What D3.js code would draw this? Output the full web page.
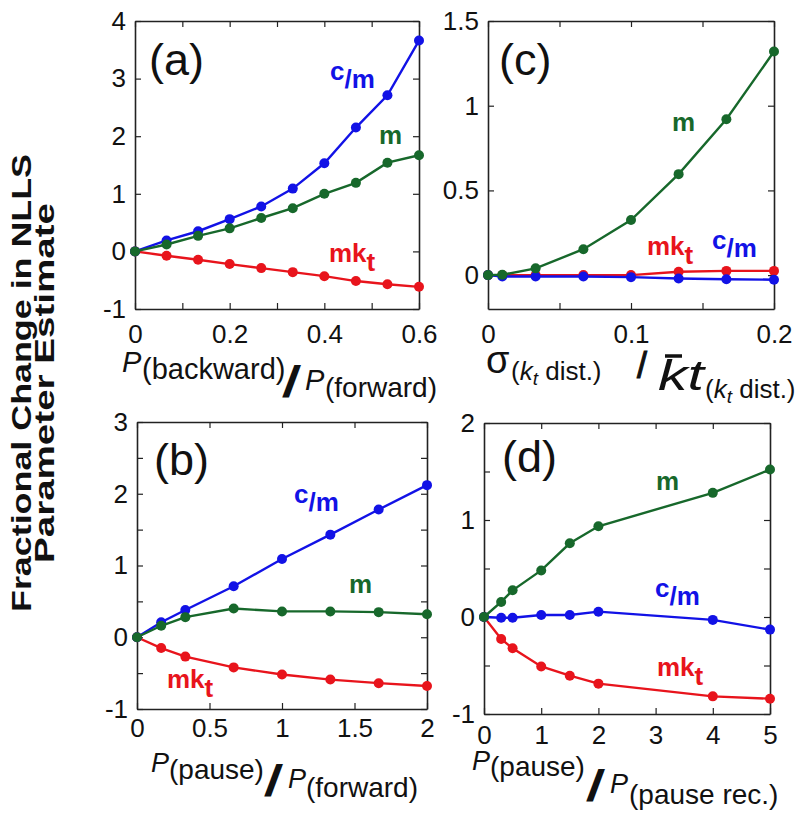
<!DOCTYPE html>
<html><head><meta charset="utf-8">
<script src="https://cdn.jsdelivr.net/npm/d3@7"></script>
<style>
body{margin:0;background:#fff}
svg{display:block}
text{font-family:"Liberation Sans",Arial,sans-serif}
</style>
</head><body>
<svg id="chart" width="800" height="816"></svg>
<script>
// ---------- DATA ----------
// Panel (a): P(backward)/P(forward)
const xA    = [0, 0.0667, 0.1333, 0.2, 0.2667, 0.3333, 0.4, 0.4667, 0.5333, 0.6];
const aCm   = [0, 0.19, 0.35, 0.56, 0.78, 1.09, 1.53, 2.15, 2.71, 3.66];
const aM    = [0, 0.12, 0.27, 0.40, 0.58, 0.75, 1.00, 1.19, 1.54, 1.67];
const aMkt  = [0, -0.075, -0.145, -0.22, -0.29, -0.36, -0.43, -0.515, -0.57, -0.615];
const xTicksA = [0, 0.1, 0.2, 0.3, 0.4, 0.5, 0.6];
const xLabelsA = [0, 0.2, 0.4, 0.6];
const yTicksA = [-1, 0, 1, 2, 3, 4];
const yLabelsA = [-1, 0, 1, 2, 3, 4];

// Panel (b): P(pause)/P(forward)
const xB    = [0, 0.1667, 0.3333, 0.6667, 1, 1.3333, 1.6667, 2];
const bCm   = [0, 0.21, 0.38, 0.71, 1.09, 1.43, 1.78, 2.12];
const bM    = [0, 0.16, 0.28, 0.40, 0.36, 0.36, 0.35, 0.32];
const bMkt  = [0, -0.15, -0.27, -0.42, -0.52, -0.59, -0.64, -0.68];
const xTicksB = [0, 0.5, 1, 1.5, 2];
const xLabelsB = [0, 0.5, 1, 1.5, 2];
const yTicksB = [-1, -0.5, 0, 0.5, 1, 1.5, 2, 2.5, 3];
const yLabelsB = [-1, 0, 1, 2, 3];

// Panel (c): sigma / mean kt
const xC    = [0, 0.01, 0.0333, 0.0667, 0.1, 0.1333, 0.1667, 0.2];
const cM    = [0, 0.002, 0.04, 0.153, 0.325, 0.596, 0.92, 1.32];
const cMkt  = [0, 0, 0, 0, 0, 0.02, 0.025, 0.025];
const cCm   = [0, -0.008, -0.008, -0.008, -0.012, -0.02, -0.024, -0.027];
const xTicksC = [0, 0.05, 0.1, 0.15, 0.2];
const xLabelsC = [0, 0.1, 0.2];
const yTicksC = [0, 0.5, 1, 1.5];
const yLabelsC = [0, 0.5, 1, 1.5];

// Panel (d): P(pause)/P(pause rec.)
const xD    = [0, 0.3, 0.5, 1, 1.5, 2, 4, 5];
const dM    = [0, 0.155, 0.275, 0.48, 0.76, 0.935, 1.28, 1.52];
const dCm   = [0, -0.007, -0.007, 0.02, 0.02, 0.055, -0.03, -0.13];
const dMkt  = [0, -0.227, -0.323, -0.51, -0.605, -0.687, -0.818, -0.842];
const xTicksD = [0, 1, 2, 3, 4, 5];
const xLabelsD = [0, 1, 2, 3, 4, 5];
const yTicksD = [-1, -0.5, 0, 0.5, 1, 1.5, 2];
const yLabelsD = [-1, 0, 1, 2];

// ---------- STYLE ----------
const COL = {cm: "#1212e6", m: "#17682b", mkt: "#e8141c"};
const FONT = '"Liberation Sans",Arial,sans-serif';

const panels = [
  {tag:"(a)", x:xA, cm:aCm, m:aM, mkt:aMkt, xDom:[0,0.6], yDom:[-1,4],
   xT:xTicksA, xL:xLabelsA, yT:yTicksA, yL:yLabelsA,
   L:135, R:419, T:21, B:309, tickBase:34, tagPos:[149,75],
   lab:{cm:[330,88], m:[379,144], mkt:[329,262]}},
  {tag:"(b)", x:xB, cm:bCm, m:bM, mkt:bMkt, xDom:[0,2], yDom:[-1,3],
   xT:xTicksB, xL:xLabelsB, yT:yTicksB, yL:yLabelsB,
   L:137, R:427, T:422, B:709, tickBase:28, tagPos:[154,475],
   lab:{cm:[294,511], m:[349,593], mkt:[167,688]}},
  {tag:"(c)", x:xC, cm:cCm, m:cM, mkt:cMkt, xDom:[0,0.2], yDom:[-0.2,1.5],
   xT:xTicksC, xL:xLabelsC, yT:yTicksC, yL:yLabelsC,
   L:488, R:774, T:21, B:309, tickBase:34, tagPos:[499,75],
   lab:{cm:[712,257], m:[672,131], mkt:[647,255]}},
  {tag:"(d)", x:xD, cm:dCm, m:dM, mkt:dMkt, xDom:[0,5], yDom:[-1,2],
   xT:xTicksD, xL:xLabelsD, yT:yTicksD, yL:yLabelsD,
   L:484, R:770, T:423, B:714, tickBase:30, tagPos:[502,472],
   lab:{cm:[655,605], m:[656,490], mkt:[657,676]}}
];

const svg = d3.select("#chart");
svg.append("rect").attr("width",800).attr("height",816).attr("fill","#fff");

const inList = list => d => list.some(v => Math.abs(v - d) < 1e-9) ? String(d) : "";

function styleAxis(sel){
  sel.attr("font-family", FONT).attr("font-size", 26);
  sel.select(".domain").attr("stroke","#222").attr("stroke-width",1.6);
  sel.selectAll(".tick line").attr("stroke","#222").attr("stroke-width",1.2);
  sel.selectAll(".tick text").attr("fill","#111");
}

panels.forEach(p => {
  const xs = d3.scaleLinear().domain(p.xDom).range([p.L, p.R]);
  const ys = d3.scaleLinear().domain(p.yDom).range([p.B, p.T]);
  const g = svg.append("g");

  const bx = g.append("g").attr("transform",`translate(0,${p.B})`)
    .call(d3.axisBottom(xs).tickValues(p.xT).tickSize(-6).tickSizeOuter(0).tickPadding(0).tickFormat(inList(p.xL)))
    .call(styleAxis);
  bx.selectAll(".tick text").attr("y", p.tickBase).attr("dy", null);
  g.append("g").attr("transform",`translate(0,${p.T})`)
    .call(d3.axisTop(xs).tickValues(p.xT).tickSize(-6).tickSizeOuter(0).tickFormat(""))
    .call(styleAxis);
  g.append("g").attr("transform",`translate(${p.L},0)`)
    .call(d3.axisLeft(ys).tickValues(p.yT).tickSize(-6).tickSizeOuter(0).tickPadding(9).tickFormat(inList(p.yL)))
    .call(styleAxis);
  g.append("g").attr("transform",`translate(${p.R},0)`)
    .call(d3.axisRight(ys).tickValues(p.yT).tickSize(-6).tickSizeOuter(0).tickFormat(""))
    .call(styleAxis);

  const line = d3.line().x((d,i)=>xs(p.x[i])).y(d=>ys(d));
  ["mkt","cm","m"].forEach(k => {
    g.append("path").datum(p[k]).attr("d", line)
      .attr("fill","none").attr("stroke",COL[k]).attr("stroke-width",2.4);
    g.selectAll(null).data(p[k]).enter().append("circle")
      .attr("cx",(d,i)=>xs(p.x[i])).attr("cy",d=>ys(d)).attr("r",5)
      .attr("fill",COL[k]);
  });

  // panel tag
  g.append("text").attr("x",p.tagPos[0]).attr("y",p.tagPos[1])
    .attr("font-size",45).attr("fill","#111").text(p.tag);

  // series labels
  const lc = g.append("text").attr("x",p.lab.cm[0]).attr("y",p.lab.cm[1])
    .attr("font-size",26).attr("font-weight","bold").attr("fill",COL.cm);
  lc.append("tspan").attr("dy",-8).text("c");
  lc.append("tspan").attr("dy",8).text("/m");

  g.append("text").attr("x",p.lab.m[0]).attr("y",p.lab.m[1])
    .attr("font-size",26).attr("font-weight","bold").attr("fill",COL.m).text("m");

  const lk = g.append("text").attr("x",p.lab.mkt[0]).attr("y",p.lab.mkt[1])
    .attr("font-size",26).attr("font-weight","bold").attr("fill",COL.mkt);
  lk.append("tspan").text("mk");
  lk.append("tspan").attr("dy",9).text("t");
});

// ---------- AXIS TITLES ----------
function rich(parts){
  const t = svg.append("text").attr("fill","#111");
  parts.forEach(q => {
    const s = t.append("tspan").attr("x",q.x).attr("y",q.y)
      .attr("font-size",q.s).text(q.t);
    if (q.i) s.attr("font-style","italic");
    if (q.b) s.attr("font-weight","bold").attr("font-style","italic")
               .attr("stroke","#111").attr("stroke-width",1.8);
  });
  return t;
}
// (a)
rich([
  {t:"P", x:122, y:372, s:29, i:1},
  {t:"(backward)", x:142, y:379, s:29},
  {t:"/", x:285, y:396, s:40, b:1},
  {t:"P", x:305, y:390, s:29, i:1},
  {t:"(forward)", x:325, y:397, s:28}
]);
// (b)
rich([
  {t:"P", x:151, y:772, s:27, i:1},
  {t:"(pause)", x:169, y:779, s:28},
  {t:"/", x:267, y:795, s:40, b:1},
  {t:"P", x:288, y:788, s:27, i:1},
  {t:"(forward)", x:306, y:797, s:28}
]);
// (d)
rich([
  {t:"P", x:472, y:770, s:27, i:1},
  {t:"(pause)", x:490, y:776, s:28},
  {t:"/", x:589, y:800, s:40, b:1},
  {t:"P", x:610, y:793, s:27, i:1},
  {t:"(pause rec.)", x:629, y:804, s:28}
]);
// (c)
(function(){
  const t = svg.append("text").attr("fill","#111");
  t.append("tspan").attr("x",486).attr("y",373).attr("font-size",38).text("σ");
  t.append("tspan").attr("x",511).attr("y",380).attr("font-size",26).text("(");
  t.append("tspan").attr("font-size",26).attr("font-style","italic").text("k");
  t.append("tspan").attr("font-size",19).attr("font-style","italic").attr("dy",5).text("t");
  t.append("tspan").attr("font-size",26).attr("dy",-5).text(" dist.)");
  t.append("tspan").attr("x",637).attr("y",378).attr("font-size",36)
    .attr("stroke","#111").attr("stroke-width",1).text("/");
  svg.append("text").attr("x",658).attr("y",390).attr("fill","#111")
    .attr("font-size",42).attr("font-style","italic")
    .attr("textLength",46).attr("lengthAdjust","spacingAndGlyphs").text("kt");
  const s = svg.append("text").attr("fill","#111");
  s.append("tspan").attr("x",705).attr("y",398).attr("font-size",26).text("(");
  s.append("tspan").attr("font-size",26).attr("font-style","italic").text("k");
  s.append("tspan").attr("font-size",19).attr("font-style","italic").attr("dy",5).text("t");
  s.append("tspan").attr("font-size",26).attr("dy",-5).text(" dist.)");
  // bar over k (mean)
  svg.append("line").attr("x1",665).attr("x2",682).attr("y1",356).attr("y2",356)
    .attr("stroke","#111").attr("stroke-width",3.5);
})();

// ---------- Y TITLE ----------
svg.append("text").attr("transform","translate(31,383) rotate(-90)")
  .attr("text-anchor","middle").attr("font-size",27).attr("font-weight","bold").attr("fill","#111")
  .attr("textLength",458).attr("lengthAdjust","spacingAndGlyphs")
  .text("Fractional Change in NLLS");
svg.append("text").attr("transform","translate(54,383) rotate(-90)")
  .attr("text-anchor","middle").attr("font-size",27).attr("font-weight","bold").attr("fill","#111")
  .attr("textLength",360).attr("lengthAdjust","spacingAndGlyphs")
  .text("Parameter Estimate");
</script>
</body></html>
